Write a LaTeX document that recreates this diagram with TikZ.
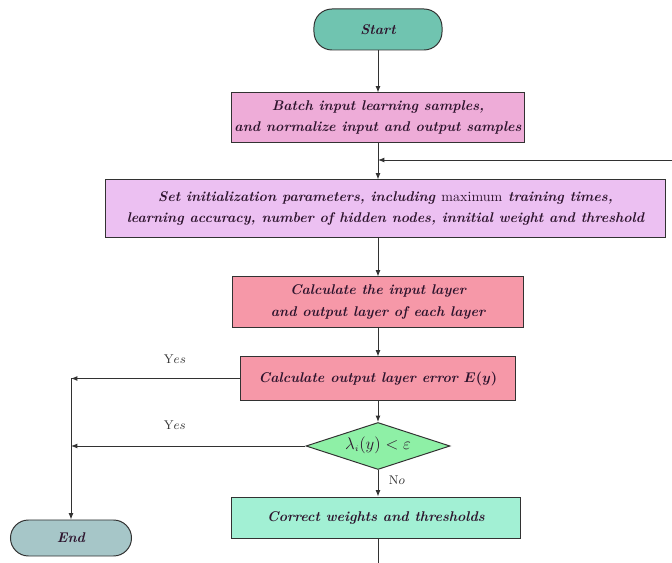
\documentclass[tikz,border=0pt]{standalone}
\usepackage{amsmath, amssymb}
\usepackage{xcolor}
\usepackage{tikz}
\usetikzlibrary{shapes.geometric, arrows.meta, positioning, calc}
\definecolor{StartFill}{RGB}{112, 196, 176}
\definecolor{EndFill}{RGB}{166, 198, 200}
\definecolor{BatchFill}{RGB}{238, 172, 216}
\definecolor{SetFill}{RGB}{236, 192, 242}
\definecolor{CalcFill}{RGB}{246, 152, 168}
\definecolor{CondFill}{RGB}{142, 240, 166}
\definecolor{FixFill}{RGB}{162, 240, 212}
\definecolor{EdgeGray}{RGB}{50, 50, 50}
\definecolor{InkDark}{RGB}{45, 20, 45}

\begin{document}
\begin{tikzpicture}[x=0.025cm, y=-0.025cm,
  box/.style={draw=EdgeGray, line width=0.7pt, inner sep=2pt,
    align=center, font=\bfseries\itshape\boldmath\color{InkDark}},
  term/.style={box, rounded corners=0.45cm},
  cond/.style={draw=EdgeGray, line width=0.7pt, diamond, inner sep=0pt,
    fill=CondFill, font=\fontsize{13}{16}\selectfont\color{InkDark}},
  lbl/.style={font=\small\color{InkDark}},
  arr/.style={-{Latex[length=4.5pt, width=3.5pt]}, EdgeGray, line width=0.7pt},
  ln/.style={EdgeGray, line width=0.7pt}
]
\useasboundingbox (0,0) rectangle (672,563);
\node[term, fill=StartFill, minimum width=3.2cm, minimum height=1.025cm] (start) at (378,29.5) {Start};
\node[box, fill=BatchFill, minimum width=7.3cm, minimum height=1.225cm] (batch) at (378,117.5)
  {Batch input learning samples,\\[3pt]and normalize input and output samples};
\node[box, fill=SetFill, minimum width=13.975cm, minimum height=1.425cm] (init) at (385.5,208.5)
  {Set initialization parameters, including \textup{\mdseries maximum} training times,\\[3pt]
   learning accuracy, number of hidden nodes, innitial weight and threshold};
\node[box, fill=CalcFill, minimum width=7.25cm, minimum height=1.25cm] (calcin) at (378,302)
  {Calculate the input layer\\[3pt]and output layer of each layer};
\node[box, fill=CalcFill, minimum width=6.875cm, minimum height=1.075cm] (calcerr) at (378,378.5)
  {Calculate output layer error $E(y)$};
\node[cond, minimum width=3.6cm, minimum height=1.175cm] (check) at (378,446)
  {\makebox[0pt]{\raisebox{-0.4ex}[0pt][0pt]{$\lambda_{\scriptscriptstyle i}(y) < \varepsilon$}}};
\node[box, fill=FixFill, minimum width=7.2cm, minimum height=1.025cm] (fix) at (376,517.5)
  {Correct weights and thresholds};
\node[term, fill=EndFill, minimum width=3.025cm, minimum height=0.9cm] (stop) at (71,538) {End};
\coordinate (loopin) at (672,160);
\coordinate (loopout) at (378,563);

\draw[arr] (start) -- (batch);
\draw[arr] (batch.south) -- (batch.south |- init.north);
\draw[arr] (loopin) -- (loopin -| batch.south);
\draw[arr] (init.south -| calcin.north) -- (calcin.north);
\draw[arr] (calcin) -- (calcerr);
\draw[arr] (calcerr) -- (check);
\draw[arr] (check.south) -- (check.south |- fix.north) node[lbl, pos=0.4, right=4pt] {N$o$};
\draw[ln] (fix.south -| loopout) -- (loopout);
\draw[arr] (calcerr.west) -- (calcerr.west -| stop.north)
  node[lbl, pos=0.385, above=7pt] {Y$es$};
\draw[arr] (check.west) -- (check.west -| stop.north)
  node[lbl, pos=0.557, above=8pt] {Y$es$};
\draw[arr] (calcerr.west -| stop.north) -- (stop.north);
\end{tikzpicture}
\end{document}
